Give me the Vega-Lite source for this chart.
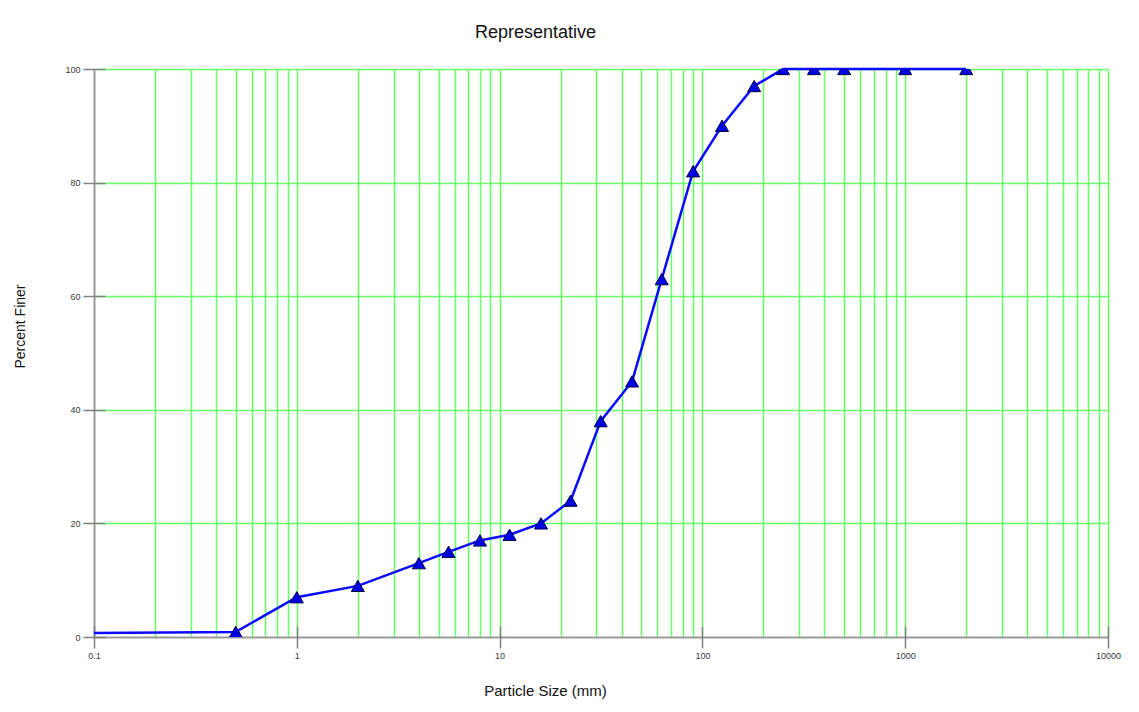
{
  "$schema": "https://vega.github.io/schema/vega-lite/v6.json",
  "width": 1014,
  "height": 568,
  "autosize": {"type": "none"},
  "padding": {"left": 94, "top": 69, "right": 31, "bottom": 75},
  "background": "white",
  "title": {"text": "Representative", "anchor": "start", "frame": "group", "dx": 381, "fontSize": 18, "font": "Liberation Sans", "fontWeight": "normal", "color": "#111", "offset": 22},
  "config": {
    "view": {"stroke": null},
    "axis": {
      "labelFont": "Liberation Sans",
      "labelFontSize": 9,
      "labelColor": "#3a3a3a",
      "titleFont": "Liberation Sans",
      "titleFontWeight": "normal",
      "titleColor": "#111",
      "tickColor": "#808080",
      "tickWidth": 1.5,
      "domain": false
    }
  },
  "data": {
    "values": [
      {"size": 0.1, "finer": 0.7, "marker": false},
      {"size": 0.5, "finer": 0.9, "marker": true},
      {"size": 1, "finer": 7, "marker": true},
      {"size": 2, "finer": 9, "marker": true},
      {"size": 4, "finer": 13, "marker": true},
      {"size": 5.6, "finer": 15, "marker": true},
      {"size": 8, "finer": 17, "marker": true},
      {"size": 11.2, "finer": 18, "marker": true},
      {"size": 16, "finer": 20, "marker": true},
      {"size": 22.4, "finer": 24, "marker": true},
      {"size": 31.5, "finer": 38, "marker": true},
      {"size": 45, "finer": 45, "marker": true},
      {"size": 63, "finer": 63, "marker": true},
      {"size": 90, "finer": 82, "marker": true},
      {"size": 125, "finer": 90, "marker": true},
      {"size": 180, "finer": 97, "marker": true},
      {"size": 250, "finer": 100, "marker": true},
      {"size": 355, "finer": 100, "marker": true},
      {"size": 500, "finer": 100, "marker": true},
      {"size": 1000, "finer": 100, "marker": true},
      {"size": 2000, "finer": 100, "marker": true}
    ]
  },
  "encoding": {
    "x": {
      "field": "size",
      "type": "quantitative",
      "scale": {"type": "log", "domain": [0.1, 10000]},
      "axis": {
        "title": "Particle Size (mm)",
        "titleFontSize": 15,
        "titleX": 451,
        "titleY": 64,
        "titleBaseline": "middle",
        "offset": -11,
        "tickSize": 22,
        "labelPadding": 3,
        "labelFlush": false,
        "labelOverlap": false,
        "labelBound": false,
        "values": [0.1,0.2,0.3,0.4,0.5,0.6,0.7,0.8,0.9,1,2,3,4,5,6,7,8,9,10,20,30,40,50,60,70,80,90,100,200,300,400,500,600,700,800,900,1000,2000,3000,4000,5000,6000,7000,8000,9000,10000],
        "labelExpr": "indexof([0.1,1,10,100,1000,10000], datum.value) >= 0 ? datum.value + '' : ''",
        "tickOpacity": {"condition": {"test": "indexof([0.1,1,10,100,1000,10000], datum.value) >= 0", "value": 1}, "value": 0},
        "grid": true,
        "gridColor": {"condition": {"test": "datum.value === 0.1", "value": "#999999"}, "value": "#66ff66"},
        "gridWidth": {"condition": {"test": "datum.value === 0.1", "value": 2}, "value": 1.5}
      }
    },
    "y": {
      "field": "finer",
      "type": "quantitative",
      "scale": {"domain": [0, 100], "nice": false},
      "axis": {
        "title": "Percent Finer",
        "titleFontSize": 14,
        "titleX": -85,
        "titleY": 257,
        "titleBaseline": "middle",
        "offset": -11,
        "tickSize": 22,
        "labelPadding": 3,
        "values": [0, 20, 40, 60, 80, 100],
        "grid": true,
        "gridColor": {"condition": {"test": "datum.value === 0", "value": "#999999"}, "value": "#66ff66"},
        "gridWidth": {"condition": {"test": "datum.value === 0", "value": 2}, "value": 1.5}
      }
    }
  },
  "layer": [
    {"mark": {"type": "line", "color": "#0a0aff", "strokeWidth": 2.5}},
    {
      "transform": [{"filter": "datum.marker"}],
      "mark": {"type": "point", "shape": "triangle-up", "filled": true, "fill": "#0000e6", "stroke": "#000044", "strokeWidth": 1, "size": 170, "opacity": 1, "clip": true}
    }
  ]
}
